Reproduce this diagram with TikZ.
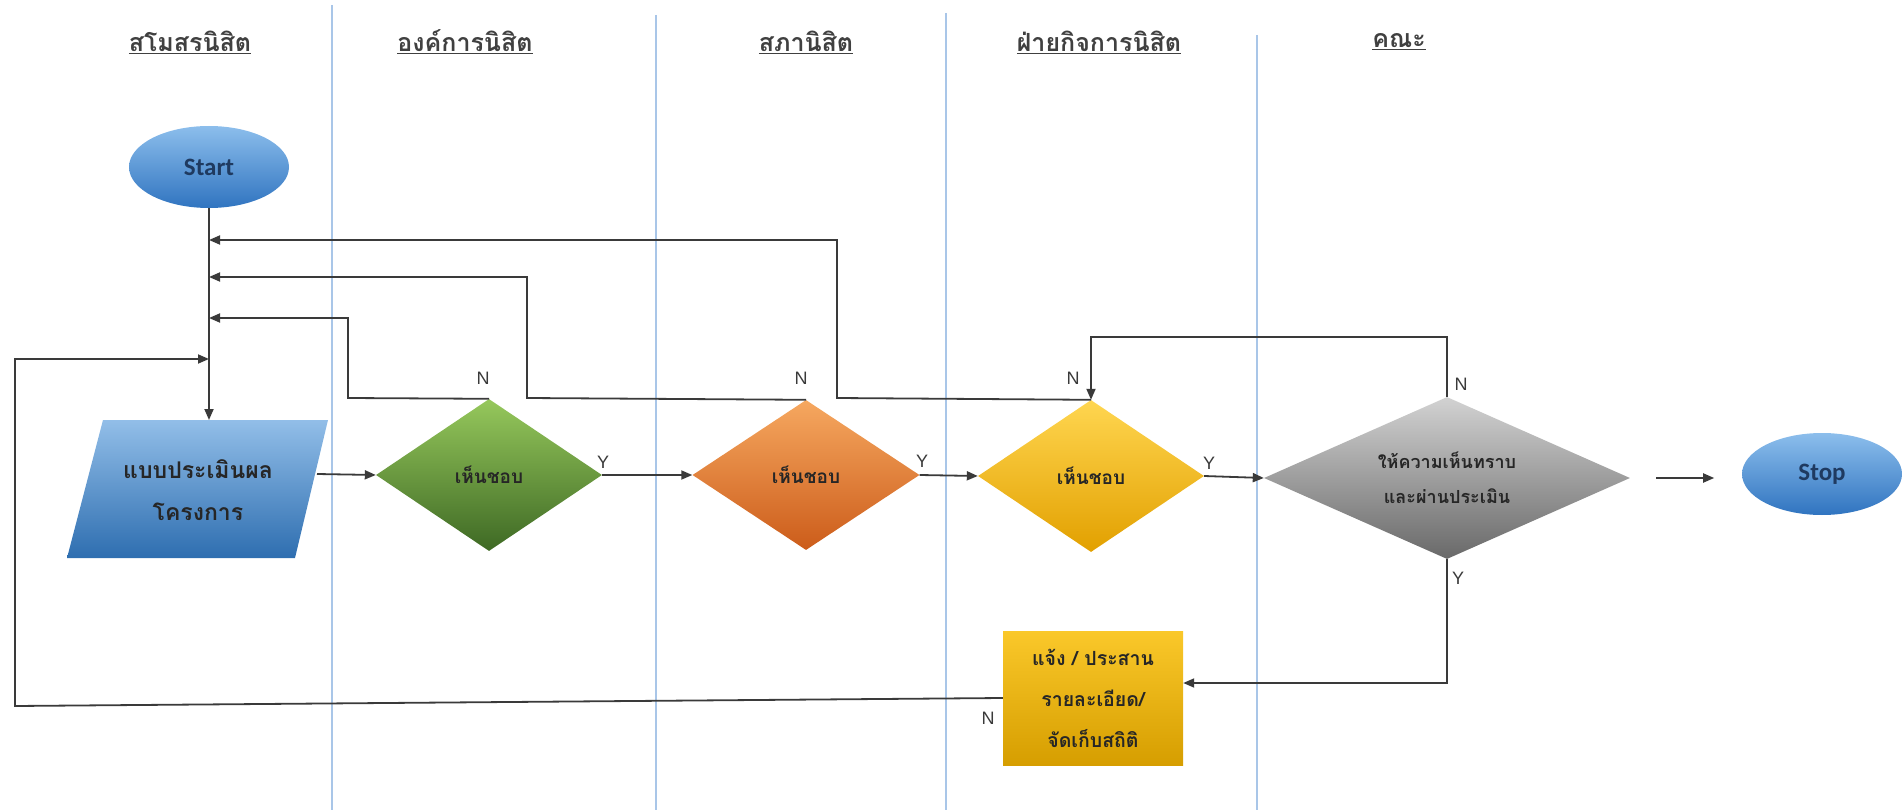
\documentclass[tikz,border=0pt]{standalone}
\usepackage{fontspec}
\setmainfont{Liberation Sans}
\newfontfamily\thai[Script=Thai]{Loma}
\newfontfamily\calib{Carlito}
\usetikzlibrary{shapes.geometric,arrows.meta,calc}

\definecolor{laneblue}{HTML}{A9C6E8}
\definecolor{linegray}{HTML}{3A3A3A}
\definecolor{headgray}{HTML}{404040}
\definecolor{navy}{HTML}{1F3A60}

\begin{document}
\begin{tikzpicture}[x=1pt,y=-1pt,
  lane/.style={draw=laneblue, line width=1.3pt},
  link/.style={draw=linegray, line width=1.8pt},
  flow/.style={link, -{Triangle[length=11pt,width=9pt]}},
  head/.style={font=\thai\bfseries\fontsize{25}{30}\selectfont, text=headgray},
  yn/.style={font=\fontsize{18}{20}\selectfont, text=linegray, inner sep=0pt},
  terminal/.style={ellipse, inner sep=0pt, minimum width=160pt, minimum height=82pt,
    top color={rgb,255:red,140;green,190;blue,236}, bottom color={rgb,255:red,48;green,116;blue,192},
    font=\calib\bfseries\fontsize{25}{28}\selectfont, text=navy},
  decision/.style={diamond, inner sep=0pt, aspect=1.5,
    font=\thai\bfseries\fontsize{19}{36}\selectfont, text=black!85, align=center},
]
\useasboundingbox (0,0) rectangle (1903,810);

% swimlane separators
\draw[lane] (332,5) -- (332,810);
\draw[lane] (656,15) -- (656,810);
\draw[lane] (946,13) -- (946,810);
\draw[lane] (1257,35) -- (1257,810);

% lane titles
\node[head] (h1) at (190,42) {\underline{สโมสรนิสิต}};
\node[head] (h2) at (465,42) {\underline{องค์การนิสิต}};
\node[head] (h3) at (806,42) {\underline{สภานิสิต}};
\node[head] (h4) at (1099,42) {\underline{ฝ่ายกิจการนิสิต}};
\node[head] (h5) at (1399,42) {\underline{คณะ}};

% terminals
\node[terminal] (start) at (209,167) {Start};
\node[terminal] (stop) at (1822,474) {Stop};

% input form (parallelogram)
\shade[top color={rgb,255:red,146;green,190;blue,232}, bottom color={rgb,255:red,46;green,110;blue,176}]
  (103,420) -- (328,420) -- (295,558) -- (67,558) -- cycle;
\node[font=\thai\bfseries\fontsize{23}{42}\selectfont, text=black!85, align=center] (data) at (198,490)
  {แบบประเมินผล\\โครงการ};
\coordinate (datatop) at (209,420);
\coordinate (dataright) at (317,474);

% decisions
\node[decision, minimum width=226pt, minimum height=152pt,
  top color={rgb,255:red,150;green,200;blue,92}, bottom color={rgb,255:red,62;green,105;blue,36}]
  (d1) at (489,475) {เห็นชอบ};
\node[decision, minimum width=227pt, minimum height=150pt,
  top color={rgb,255:red,246;green,168;blue,96}, bottom color={rgb,255:red,204;green,92;blue,26}]
  (d2) at (806,475) {เห็นชอบ};
\node[decision, minimum width=226pt, minimum height=152pt,
  top color={rgb,255:red,255;green,214;blue,80}, bottom color={rgb,255:red,226;green,160;blue,0}]
  (d3) at (1091,476) {เห็นชอบ};
\node[decision, minimum width=366pt, minimum height=162pt, font=\thai\bfseries\fontsize{18}{35}\selectfont,
  top color={rgb,255:red,210;green,210;blue,210}, bottom color={rgb,255:red,105;green,105;blue,105}]
  (d4) at (1447,478) {ให้ความเห็นทราบ\\และผ่านประเมิน};

% notify / coordinate box
\node[rectangle, inner sep=0pt, minimum width=180pt, minimum height=134pt,
  top color={rgb,255:red,250;green,200;blue,42}, bottom color={rgb,255:red,214;green,158;blue,0},
  font=\thai\bfseries\fontsize{19.5}{41}\selectfont, text=black!85, align=center]
  (box) at (1093,698) {แจ้ง / ประสาน\\รายละเอียด/\\จัดเก็บสถิติ};

% junctions on the main trunk
\coordinate (j1) at (209,240);
\coordinate (j2) at (209,277);
\coordinate (j3) at (209,318);
\coordinate (j4) at (209,359);

% main flow
\draw[flow] (start.south) -- (datatop);
\draw[flow] (dataright) -- (d1.west);
\draw[flow] (d1.east) -- (d2.west);
\draw[flow] (d2.east) -- (d3.west);
\draw[flow] (d3.east) -- (d4.west);
\draw[flow] ($(d4.east)+(26,0)$) -- ++(58,0);

% rejection loops back to the trunk
\draw[flow] (d1.north) -- (348,398) |- (j3);
\draw[flow] (d2.north) -- (527,398) |- (j2);
\draw[flow] (d3.north) -- (837,398) |- (j1);
\draw[flow] (d4.north) -- (1447,337) -| (d3.north);
\draw[flow] (d4.south) |- ($(box.east)+(0,-15)$);
\draw[flow] (box.west) -- (15,706) |- (j4);

% branch labels
\node[yn] (n1) at (483,378) {N};
\node[yn] (y1) at (603,462) {Y};
\node[yn] (n2) at (801,378) {N};
\node[yn] (y2) at (922,461) {Y};
\node[yn] (n3) at (1073,378) {N};
\node[yn] (y3) at (1209,463) {Y};
\node[yn] (n4) at (1461,384) {N};
\node[yn] (y4) at (1458,578) {Y};
\node[yn] (n5) at (988,718) {N};
\end{tikzpicture}
\end{document}
